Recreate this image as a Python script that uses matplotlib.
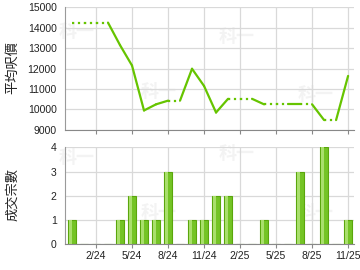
import numpy as np
import matplotlib.pyplot as plt

# monthly data, 12/23 .. 11/25
months = ["12/23", "1/24", "2/24", "3/24", "4/24", "5/24", "6/24", "7/24",
          "8/24", "9/24", "10/24", "11/24", "12/24", "1/25", "2/25", "3/25",
          "4/25", "5/25", "6/25", "7/25", "8/25", "9/25", "10/25", "11/25"]
# average price per sq ft as shown (months without deals carry the last value)
avg_price = [14250, 14250, 14250, 14250, 13150, 12150, 9950, 10250,
             10430, 10430, 11990, 11150, 9850, 10520, 10520, 10520,
             10250, 10250, 10250, 10250, 10250, 9480, 9480, 11640]
deals = [1, 0, 0, 0, 1, 2, 1, 1, 3, 0, 1, 1, 2, 2, 0, 0, 1, 0, 0, 3, 0, 4, 0, 1]
tick_labels = ["2/24", "5/24", "8/24", "11/24", "2/25", "5/25", "8/25", "11/25"]

LINE = "#66c400"
GRID = "#d9d9d9"
SPINE = "#9a9a9a"

plt.rcParams["font.family"] = ["Liberation Sans", "DejaVu Sans"]
cjk = ["Noto Sans CJK TC", "DejaVu Sans"]

fig = plt.figure(figsize=(3.6, 2.7), dpi=100)
ax1 = fig.add_axes([0.1806, 0.519, 0.803, 0.454])
ax2 = fig.add_axes([0.1806, 0.0963, 0.803, 0.358])

x = np.arange(len(months))
tick_pos = [months.index(t) for t in tick_labels]

marks = {ax1: [(0.04, 0.80), (0.325, 0.31), (0.593, 0.76), (0.868, 0.29)],
         ax2: [(0.04, 0.90), (0.325, 0.33), (0.593, 0.94), (0.868, 0.33)]}

for ax in (ax1, ax2):
    ax.set_xlim(-0.58, 23.5)
    ax.set_xticks(tick_pos)
    ax.grid(True, color=GRID, linewidth=0.9)
    ax.set_axisbelow(True)
    for s in ("top", "right"):
        ax.spines[s].set_visible(False)
    ax.spines["left"].set_color(SPINE)
    ax.spines["bottom"].set_color("#888888")
    ax.tick_params(axis="y", length=0, labelsize=7.5, pad=6, colors="#222222")
    ax.tick_params(axis="x", length=3, color="#888888", labelsize=7.5,
                   colors="#222222", pad=2)
    # faint watermark
    for wx, wy in marks[ax]:
        ax.text(wx, wy, "科一", transform=ax.transAxes, family=cjk,
                fontsize=13, fontweight="bold", color="#f3f3f3",
                ha="center", va="center", zorder=0)

# --- price line: solid into months with deals, dotted otherwise ---
for i in range(len(months) - 1):
    style = "-" if deals[i + 1] > 0 else ":"
    ax1.plot(x[i:i + 2], avg_price[i:i + 2], color=LINE, linewidth=1.6,
             linestyle=style, solid_capstyle="round", zorder=3)
ax1.set_ylim(9000, 15000)
ax1.set_yticks(range(9000, 15001, 1000))
ax1.tick_params(axis="x", labelbottom=False)

# --- deal count bars ---
ax2.bar(x, deals, width=0.7, color="#74c425", edgecolor="#5aa60c",
        linewidth=0.8, zorder=2)
ax2.bar(x - 0.1, deals, width=0.25, color="#a9df6c", linewidth=0, zorder=3)
ax2.set_ylim(0, 4)
ax2.set_yticks(range(0, 5))
ax2.set_xticklabels(tick_labels)

fig.text(0.036, 0.75, "平均呎價", family=cjk, fontsize=9.5, rotation=90,
         ha="center", va="center", color="#222222")
fig.text(0.036, 0.28, "成交宗數", family=cjk, fontsize=9.5, rotation=90,
         ha="center", va="center", color="#222222")

fig.savefig("out.png", dpi=100)
